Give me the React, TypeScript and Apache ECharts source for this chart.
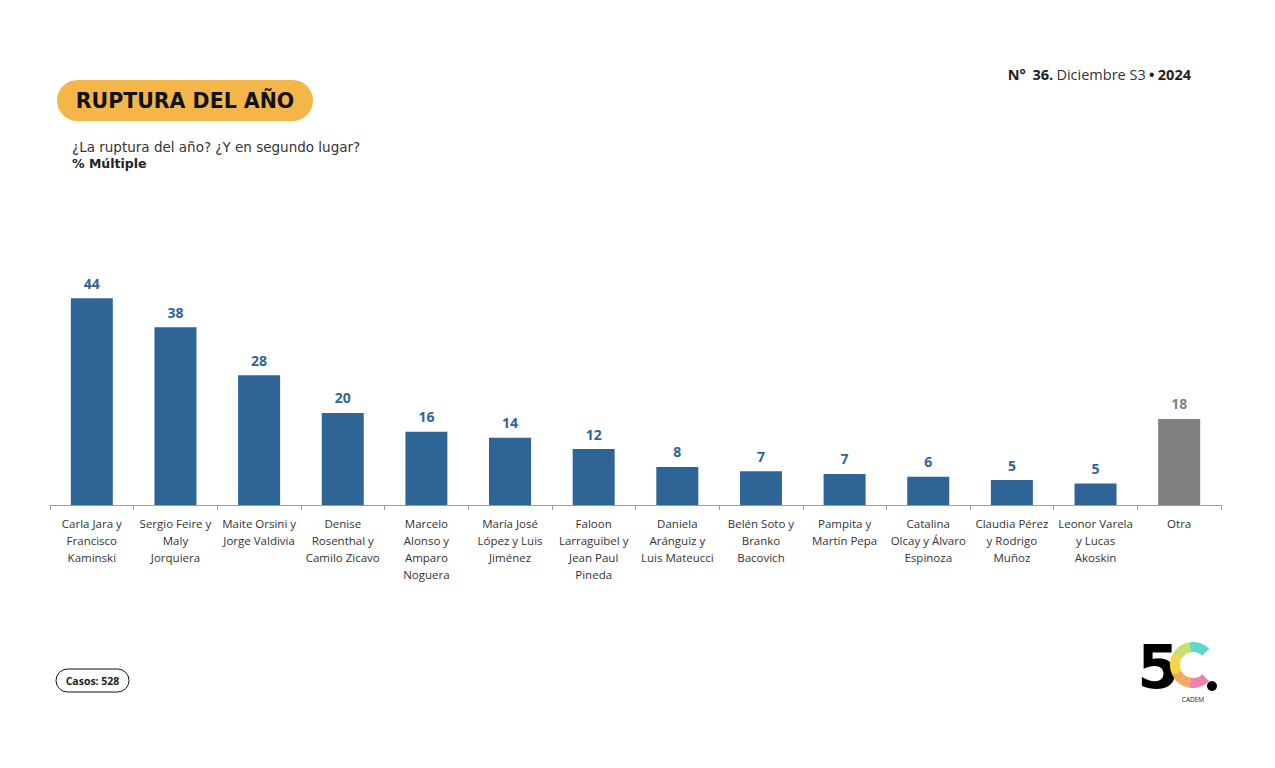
import React, { useEffect, useRef } from "react";
import * as echarts from "echarts";

const categories: string[] = [
  "Carla Jara y\nFrancisco\nKaminski",
  "Sergio Feire y\nMaly\nJorquiera",
  "Maite Orsini y\nJorge Valdivia",
  "Denise\nRosenthal y\nCamilo Zicavo",
  "Marcelo\nAlonso y\nAmparo\nNoguera",
  "María José\nLópez y Luis\nJiménez",
  "Faloon\nLarraguibel y\nJean Paul\nPineda",
  "Daniela\nAránguiz y\nLuis Mateucci",
  "Belén Soto y\nBranko\nBacovich",
  "Pampita y\nMartín Pepa",
  "Catalina\nOlcay y Álvaro\nEspinoza",
  "Claudia Pérez\ny Rodrigo\nMuñoz",
  "Leonor Varela\ny Lucas\nAkoskin",
  "Otra",
];

// Percent values (labels show rounded values)
const values: number[] = [44.0, 37.8, 27.6, 19.6, 15.6, 14.3, 11.9, 8.1, 7.2, 6.6, 6.0, 5.3, 4.6, 18.3];
const otherCategory = "Otra";

const titleText = "RUPTURA DEL AÑO";
const questionText = "¿La ruptura del año? ¿Y en segundo lugar?";
const questionType = "% Múltiple";
const casesText = "Casos: 528";

const BLUE = "#2E6496";
const GRAY = "#808080";
const FONT = "'Open Sans', sans-serif";
const WIDE = "'DejaVu Sans', sans-serif";

export default function App() {
  const ref = useRef<HTMLDivElement>(null);
  useEffect(() => {
    if (!ref.current) return;
    const chart = echarts.init(ref.current, null, { renderer: "svg" });
    const data = values.map((v, i) => {
      const other = categories[i] === otherCategory;
      return {
        value: v,
        itemStyle: { color: other ? GRAY : BLUE },
        label: { color: other ? GRAY : BLUE },
      };
    });

    // logo sectors
    const cx = 1193, cy = 665;
    const logoColors = ["#5FD6C8", "#C5E06A", "#F6D54B", "#F4A95E", "#E985AC"];
    const startDeg = 315;
    const step = 54;
    const logoSectors = logoColors.map((c, i) => ({
      type: "sector",
      shape: {
        cx,
        cy,
        r: 23,
        r0: 13,
        startAngle: ((startDeg - step * (i + 1)) * Math.PI) / 180,
        endAngle: ((startDeg - step * i) * Math.PI) / 180,
        clockwise: true,
      },
      style: { fill: c },
    }));

    chart.setOption({
      animation: false,
      backgroundColor: "#ffffff",
      grid: { left: 50, right: 54, top: 270, bottom: 263, containLabel: false },
      xAxis: {
        type: "category",
        data: categories,
        axisLine: { show: true, lineStyle: { color: "#9c9c9c", width: 1 } },
        axisTick: { show: true, length: 5, alignWithLabel: false, lineStyle: { color: "#9c9c9c" } },
        axisLabel: {
          interval: 0,
          margin: 10,
          color: "#333333",
          fontFamily: FONT,
          fontSize: 11.5,
          lineHeight: 17,
          align: "center",
        },
      },
      yAxis: {
        type: "value",
        min: 0,
        max: 50,
        show: false,
        splitLine: { show: false },
      },
      series: [
        {
          type: "bar",
          barWidth: 42,
          data,
          label: {
            show: true,
            position: "top",
            distance: 8,
            fontFamily: FONT,
            fontWeight: "bold",
            fontSize: 14,
            formatter: (p: any) => String(Math.round(p.value)),
          },
        },
      ],
      graphic: [
        {
          type: "rect",
          shape: { x: 57, y: 80, width: 256, height: 41, r: 20.5 },
          style: { fill: "#F4B549" },
        },
        {
          type: "text",
          x: 185,
          y: 101,
          style: {
            text: titleText,
            fontFamily: WIDE,
            fontWeight: "bold",
            fontSize: 20.5,
            fill: "#111111",
            align: "center",
            verticalAlign: "middle",
          },
        },
        {
          type: "text",
          x: 72,
          y: 147,
          style: {
            text: questionText,
            fontFamily: WIDE,
            fontSize: 13.5,
            lineHeight: 15,
            fill: "#333333",
            verticalAlign: "middle",
          },
        },
        {
          type: "text",
          x: 72,
          y: 163,
          style: {
            text: questionType,
            fontFamily: WIDE,
            fontWeight: "bold",
            fontSize: 12.5,
            lineHeight: 15,
            fill: "#222222",
            verticalAlign: "middle",
          },
        },
        {
          type: "text",
          x: 1191,
          y: 74,
          style: {
            text: "{b|N°}  {b|36.} {r|Diciembre S3} {b|•} {b|2024}",
            align: "right",
            verticalAlign: "middle",
            rich: {
              b: { fontFamily: FONT, fontWeight: "bold", fontSize: 14.5, fill: "#222222", color: "#222222" },
              r: { fontFamily: FONT, fontSize: 14.5, fill: "#333333", color: "#333333" },
            },
          },
        },
        {
          type: "rect",
          shape: { x: 56, y: 669, width: 73, height: 23, r: 11.5 },
          style: { fill: "#ffffff", stroke: "#111111", lineWidth: 1 },
        },
        {
          type: "text",
          x: 92.5,
          y: 680.5,
          style: {
            text: casesText,
            fontFamily: FONT,
            fontWeight: "bold",
            fontSize: 10.5,
            fill: "#222222",
            align: "center",
            verticalAlign: "middle",
          },
        },
        // logo
        {
          type: "text",
          x: 1158,
          y: 667,
          style: {
            text: "5",
            fontFamily: WIDE,
            fontWeight: "bold",
            fontSize: 60,
            lineHeight: 44,
            fill: "#000000",
            align: "center",
            verticalAlign: "middle",
          },
        },
        ...logoSectors,
        {
          type: "circle",
          shape: { cx: 1212, cy: 686, r: 5 },
          style: { fill: "#000000" },
        },
        {
          type: "text",
          x: 1193,
          y: 699,
          style: {
            text: "CADEM",
            fontFamily: FONT,
            fontSize: 6.5,
            lineHeight: 7,
            fill: "#222222",
            align: "center",
            verticalAlign: "middle",
          },
        },
      ],
    });
    return () => chart.dispose();
  }, []);
  return (
    <div
      ref={ref}
      style={{ position: "fixed", left: 0, top: 0, width: 1275, height: 768, background: "#ffffff" }}
    />
  );
}
